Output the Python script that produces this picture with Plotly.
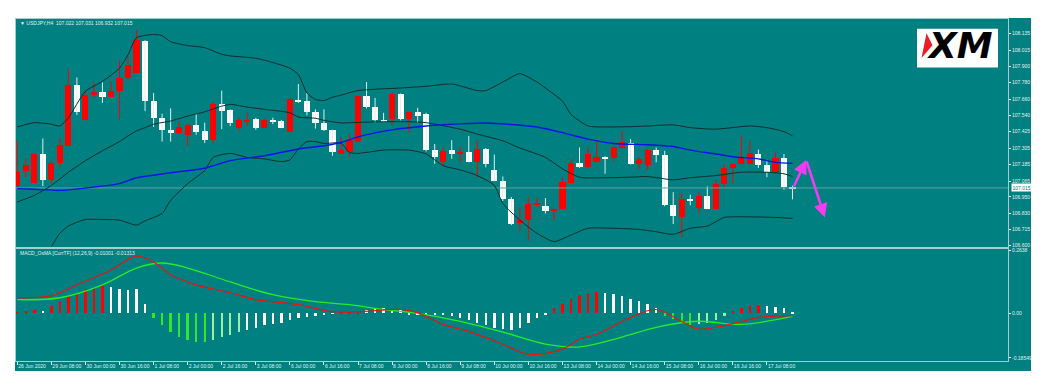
import plotly.graph_objects as go

# ---------------- data (USDJPY H4) ----------------
opens = [107.033,107.136,107.053,107.262,107.077,107.194,107.322,107.766,107.506,107.694,
         107.710,107.676,107.717,107.813,107.849,108.085,107.650,107.521,107.439,107.413,
         107.401,107.470,107.429,107.365,107.626,107.581,107.453,107.501,107.514,107.453,
         107.509,107.501,107.422,107.658,107.645,107.568,107.485,107.434,107.266,107.278,
         107.352,107.681,107.604,107.509,107.514,107.698,107.514,107.568,107.550,107.290,
         107.201,107.290,107.269,107.280,107.206,107.302,107.149,107.069,106.938,106.758,
         106.786,106.897,106.882,106.848,106.861,107.050,107.197,107.165,107.201,107.242,
         107.233,107.305,107.345,107.190,107.182,107.293,107.255,106.894,106.805,106.938,
         106.870,106.956,106.866,107.041,107.158,107.190,107.190,107.266,107.185,107.134,
         107.233,107.022]
highs = [107.357,107.226,107.265,107.374,107.213,107.377,107.878,107.818,107.722,107.782,
         107.782,107.789,107.938,107.969,108.162,108.088,107.705,107.554,107.593,107.501,
         107.482,107.554,107.489,107.638,107.722,107.585,107.525,107.561,107.525,107.518,
         107.525,107.509,107.665,107.770,107.705,107.586,107.586,107.437,107.386,107.406,
         107.684,107.784,107.669,107.561,107.703,107.701,107.570,107.597,107.561,107.334,
         107.314,107.362,107.314,107.393,107.357,107.305,107.257,107.098,106.949,106.877,
         106.949,106.945,106.942,106.868,107.089,107.226,107.309,107.314,107.357,107.245,
         107.321,107.429,107.370,107.237,107.298,107.309,107.285,106.985,106.974,106.966,
         106.985,107.026,107.074,107.183,107.192,107.393,107.357,107.293,107.219,107.273,
         107.262,107.031]
lows = [107.025,107.093,107.050,107.028,107.046,107.165,107.320,107.545,107.503,107.669,
        107.633,107.672,107.514,107.794,107.845,107.573,107.458,107.352,107.352,107.406,
        107.322,107.401,107.341,107.338,107.442,107.465,107.429,107.465,107.437,107.449,
        107.478,107.449,107.420,107.633,107.542,107.446,107.429,107.249,107.262,107.242,
        107.350,107.593,107.489,107.494,107.465,107.506,107.418,107.489,107.280,107.190,
        107.170,107.226,107.201,107.201,107.093,107.165,107.064,106.920,106.745,106.704,
        106.632,106.877,106.830,106.781,106.858,107.041,107.161,107.161,107.199,107.118,
        107.208,107.302,107.185,107.154,107.146,107.201,106.882,106.753,106.661,106.889,
        106.830,106.861,106.862,107.010,107.046,107.188,107.186,107.161,107.093,107.122,
        107.002,106.932]
closes = [107.129,107.185,107.262,107.077,107.194,107.329,107.766,107.566,107.694,107.710,
          107.676,107.722,107.818,107.910,108.090,107.650,107.525,107.437,107.417,107.458,
          107.470,107.424,107.365,107.626,107.573,107.485,107.506,107.509,107.453,107.509,
          107.496,107.453,107.662,107.645,107.568,107.485,107.434,107.278,107.290,107.362,
          107.681,107.604,107.509,107.501,107.701,107.514,107.568,107.542,107.290,107.244,
          107.285,107.266,107.280,107.206,107.298,107.190,107.069,106.938,106.753,106.786,
          106.902,106.902,106.846,106.866,107.057,107.197,107.165,107.266,107.242,107.233,
          107.314,107.348,107.190,107.226,107.290,107.255,106.894,106.812,106.933,106.918,
          106.956,106.866,107.041,107.158,107.190,107.244,107.269,107.185,107.134,107.233,
          107.021,107.015]

# Bollinger bands and moving average (bar index, price)
bb_up_idx = [0,2,4,5,6,8,10,12,13,14,16,17,18,20,22,24,25,28,30,32,33,34,35,36,37,38,40,45,48,51,
             54,55,57,59,61,62,64,65,67,69,72,74,77,79,82,86,88,90,91]
bb_up = [107.458,107.489,107.478,107.465,107.525,107.717,107.789,107.885,107.982,108.106,108.130,
         108.121,108.077,108.049,108.034,107.986,107.974,107.957,107.926,107.885,107.838,107.705,
         107.658,107.650,107.674,107.689,107.722,107.741,107.753,107.770,107.722,107.722,107.784,
         107.845,107.784,107.741,107.645,107.550,107.465,107.458,107.460,107.465,107.473,107.453,
         107.442,107.465,107.453,107.424,107.393]
bb_mid_idx = [0,2,4,6,8,10,12,13,14,15,16,18,20,22,24,25,27,29,32,33,35,36,38,39,43,46,48,52,54,
              57,59,62,64,66,69,72,74,77,79,82,85,88,90,91]
bb_mid = [106.913,106.961,107.033,107.129,107.213,107.285,107.352,107.393,107.429,107.453,107.478,
          107.501,107.537,107.568,107.609,107.622,107.602,107.586,107.561,107.530,107.521,107.506,
          107.487,107.489,107.496,107.496,107.489,107.442,107.406,107.357,107.305,107.237,107.154,
          107.093,107.089,107.093,107.098,107.074,107.089,107.105,107.129,107.129,107.118,107.098]
bb_low_idx = [0,2,4,5,6,8,10,12,14,15,17,18,20,21,22,23,25,27,29,31,32,33,34,35,36,38,39,40,43,46,
              48,50,52,54,56,57,59,61,63,65,67,70,73,75,77,79,81,82,83,86,89,91]
bb_low = [106.313,106.436,106.589,106.686,106.738,106.786,106.786,106.781,106.745,106.776,106.830,
          106.925,107.046,107.093,107.141,107.237,107.266,107.237,107.226,107.206,107.218,107.298,
          107.352,107.352,107.338,107.341,107.273,107.266,107.290,107.290,107.262,107.177,107.146,
          107.105,107.033,106.902,106.781,106.686,106.625,106.673,106.722,106.722,106.714,106.697,
          106.678,106.722,106.738,106.769,106.801,106.805,106.801,106.794]
ma_idx = [0,2,5,8,12,14,18,22,25,29,33,36,38,40,44,48,52,55,58,61,64,67,70,74,77,79,82,84,87,89,91]
ma = [107.010,107.005,106.997,107.014,107.046,107.089,107.125,107.158,107.213,107.249,107.298,
      107.321,107.345,107.386,107.437,107.465,107.480,107.487,107.476,107.458,107.417,107.370,
      107.338,107.329,107.316,107.290,107.262,107.242,107.226,107.201,107.194]

# MACD / OsMA panel (rough reading)
osma = [0.004,0.008,0.012,0.010,0.030,0.050,0.070,0.085,0.100,0.110,0.120,0.110,0.100,0.095,0.100,
        0.040,-0.020,-0.050,-0.080,-0.100,-0.110,-0.120,-0.120,-0.110,-0.100,-0.090,-0.080,-0.070,
        -0.060,-0.050,-0.045,-0.040,-0.030,-0.020,-0.015,-0.010,-0.005,-0.002,0.004,0.006,0.008,
        0.015,0.020,0.022,0.018,0.015,-0.004,-0.006,-0.005,-0.008,-0.006,-0.010,-0.020,-0.030,
        -0.040,-0.050,-0.060,-0.065,-0.070,-0.060,-0.040,-0.020,-0.005,0.020,0.040,0.060,0.075,
        0.085,0.090,0.085,0.080,0.070,0.060,0.050,0.040,0.020,-0.010,-0.025,-0.040,-0.050,-0.045,
        -0.040,-0.030,-0.010,0.010,0.020,0.030,0.035,0.030,0.028,0.020,0.004]
osma_col = ['r','r','r','w','r','r','r','r','r','r','r','w','w','w','w','w','g','g','g','g','g','g',
            'g','l','l','l','l','w','w','w','w','w','w','w','w','w','w','w','r','r','r','w','w','w',
            'w','w','w','w','w','w','w','w','w','w','w','w','w','w','w','w','w','w','w','r','r','r',
            'r','r','r','w','w','w','w','w','w','w','g','g','g','g','l','l','l','l','r','r','r','r',
            'w','w','w','w']
macd_idx = [0,4,7,11,14,16,18,21,25,28,33,37,40,45,47,50,53,57,60,64,66,68,72,75,78,80,82,85,87,91]
macd_line = [0.065,0.074,0.119,0.181,0.239,0.214,0.161,0.119,0.086,0.057,0.036,0.007,0.007,0.016,
             0.003,-0.046,-0.075,-0.129,-0.170,-0.149,-0.108,-0.087,-0.017,0.016,-0.034,-0.066,
             -0.058,-0.034,-0.017,-0.010]
sig_idx = [0,5,10,14,17,20,25,30,35,39,43,47,52,57,62,66,71,75,80,85,91]
sig_line = [0.057,0.065,0.119,0.189,0.210,0.189,0.131,0.078,0.049,0.036,0.016,0.000,-0.033,
            -0.078,-0.128,-0.140,-0.099,-0.058,-0.033,-0.046,-0.013]

tick_idx = [0,4,8,12,16,20,24,28,32,36,40,44,48,52,56,60,64,68,72,76,80,84,88]
tick_lbl = ["26 Jun 2020","29 Jun 08:00","30 Jun 00:00","30 Jun 16:00","1 Jul 08:00","2 Jul 00:00",
            "2 Jul 16:00","3 Jul 08:00","6 Jul 00:00","6 Jul 16:00","7 Jul 08:00","8 Jul 00:00",
            "8 Jul 16:00","9 Jul 08:00","10 Jul 00:00","10 Jul 16:00","13 Jul 08:00","14 Jul 00:00",
            "14 Jul 16:00","15 Jul 08:00","16 Jul 00:00","16 Jul 16:00","17 Jul 08:00"]
price_ticks = [108.135,108.015,107.900,107.780,107.660,107.540,107.425,107.305,107.185,107.065,
               106.950,106.830,106.715,106.600]
macd_ticks = [0.2638, 0.0, -0.18549]
macd_tick_lbl = ["0.2638", "0.00", "-0.18549"]
last_price = 107.015
arrow_idx = [91.1, 92.6, 94.8]
arrow_px = [107.017, 107.218, 106.801]

# ---------------- figure ----------------
W, H = 1044, 388
def px(x): return x / W
def py(y): return 1 - y / H

TEAL = '#008080'
FRAME = '#a6cccc'
TXT = '#e4f0f0'
FONT = 'Liberation Sans'

n = len(opens)
idx = list(range(n))
bull = [c > o for o, c in zip(opens, closes)]

fig = go.Figure()

# bodies
fig.add_trace(go.Bar(x=idx, y=[max(abs(c - o), 0.0012) for o, c in zip(opens, closes)],
                     base=[min(o, c) for o, c in zip(opens, closes)], width=0.72,
                     marker=dict(color=['#ff0000' if b else '#ffffff' for b in bull], line=dict(width=0)),
                     xaxis='x', yaxis='y', hoverinfo='skip', showlegend=False))
# wicks
for want, col in ((True, '#ff0000'), (False, '#dfeeee')):
    wx, wy = [], []
    for i in idx:
        if bull[i] == want:
            wx += [i, i, None]
            wy += [lows[i], highs[i], None]
    fig.add_trace(go.Scatter(x=wx, y=wy, mode='lines', line=dict(color=col, width=1),
                             xaxis='x', yaxis='y', hoverinfo='skip', showlegend=False))

# current price line
fig.add_trace(go.Scatter(x=[-1, 200], y=[last_price, last_price], mode='lines',
                         line=dict(color='#5fa3a3', width=1), xaxis='x', yaxis='y',
                         hoverinfo='skip', showlegend=False))
# bands + MA
for xs, ys, col, w in ((bb_up_idx, bb_up, '#0f2e2e', 1), (bb_mid_idx, bb_mid, '#0f2e2e', 1),
                       (bb_low_idx, bb_low, '#0f2e2e', 1), (ma_idx, ma, '#0a14e6', 1.4)):
    fig.add_trace(go.Scatter(x=xs, y=ys, mode='lines', line=dict(color=col, width=w, shape='spline', smoothing=0.6),
                             xaxis='x', yaxis='y', hoverinfo='skip', showlegend=False))

# MACD histogram
cmap = {'r': '#ff0000', 'w': '#ffffff', 'g': '#2ee82e', 'l': '#9cf29c'}
fig.add_trace(go.Bar(x=idx, y=osma, width=0.28, marker=dict(color=[cmap[c] for c in osma_col], line=dict(width=0)),
                     xaxis='x2', yaxis='y2', hoverinfo='skip', showlegend=False))
fig.add_trace(go.Scatter(x=sig_idx, y=sig_line, mode='lines', line=dict(color='#22ee22', width=1.3, shape='spline'),
                         xaxis='x2', yaxis='y2', hoverinfo='skip', showlegend=False))
fig.add_trace(go.Scatter(x=macd_idx, y=macd_line, mode='lines', line=dict(color='#ee1111', width=1.2, shape='spline'),
                         xaxis='x2', yaxis='y2', hoverinfo='skip', showlegend=False))

xr = [-0.15, 116.3]
dom_x = [px(16), px(1008)]
axis_common = dict(showgrid=False, zeroline=False, showline=True, linecolor=FRAME, linewidth=1, mirror=True)

fig.update_layout(
    width=W, height=H, margin=dict(l=0, r=0, t=0, b=0),
    paper_bgcolor='#ffffff', plot_bgcolor=TEAL, bargap=0, barmode='overlay',
    font=dict(family=FONT, size=5, color=TXT),
    xaxis=dict(domain=dom_x, range=xr, anchor='y', showticklabels=False, ticks='', **axis_common),
    yaxis=dict(domain=[py(246.5), py(17)], range=[106.589, 108.243], side='right', anchor='x',
               tickvals=price_ticks, ticktext=[f"{v:.3f}" for v in price_ticks], ticks='outside',
               ticklen=2, tickcolor=TXT, tickfont=dict(size=5, color=TXT, family=FONT), **axis_common),
    xaxis2=dict(domain=dom_x, range=xr, anchor='y2', tickvals=tick_idx, ticktext=tick_lbl,
                ticks='outside', ticklen=3, tickcolor=TXT, ticklabelposition='outside right', tickangle=0,
                tickfont=dict(size=5, color=TXT, family=FONT), **axis_common),
    yaxis2=dict(domain=[py(362), py(249)], range=[-0.1995, 0.268], side='right', anchor='x2',
                tickvals=macd_ticks, ticktext=macd_tick_lbl, ticks='outside', ticklen=2, tickcolor=TXT,
                tickfont=dict(size=5, color=TXT, family=FONT), **axis_common),
)

shapes = [
    dict(type='rect', xref='paper', yref='paper', x0=px(15), x1=px(1031), y0=py(372), y1=py(16),
         fillcolor=TEAL, line=dict(width=0), layer='below'),
    dict(type='rect', xref='paper', yref='paper', x0=px(917), x1=px(998), y0=py(66), y1=py(27),
         fillcolor='#ffffff', line=dict(width=0), layer='above'),
    dict(type='path', xref='paper', yref='paper',
         path=f"M {px(926.5)} {py(31.5)} L {px(932.5)} {py(43.5)} L {px(921.5)} {py(56.5)} Z",
         fillcolor='#ee1c25', line=dict(width=0), layer='above'),
]
fig.update_layout(shapes=shapes)

ann = [
    dict(xref='paper', yref='paper', x=px(18), y=py(20.7), xanchor='left', yanchor='middle', showarrow=False,
         text='▼ USDJPY,H4  107.022 107.031 106.932 107.015', font=dict(size=5, color=TXT, family=FONT)),
    dict(xref='paper', yref='paper', x=px(18), y=py(252.7), xanchor='left', yanchor='middle', showarrow=False,
         text='MACD_OsMA [CurrTF] (12,26,9) -0.01001 -0.01313', font=dict(size=5, color=TXT, family=FONT)),
    dict(xref='paper', yref='y', x=px(1010.5), y=last_price, xanchor='left', yanchor='middle', showarrow=False,
         text='107.015', bgcolor='#ffffff', borderpad=0.5, font=dict(size=5, color=TEAL, family=FONT)),
    dict(xref='paper', yref='paper', x=px(960), y=py(44), xanchor='center', yanchor='middle', showarrow=False,
         text='<b><i>XM</i></b>', font=dict(size=36, color='#000000', family='DejaVu Sans')),
    dict(xref='x', yref='y', x=arrow_idx[1], y=arrow_px[1], ax=arrow_idx[0], ay=arrow_px[0], axref='x', ayref='y',
         showarrow=True, arrowhead=2, arrowsize=1.1, arrowwidth=2.5, arrowcolor='#f23cf2', text=''),
    dict(xref='x', yref='y', x=arrow_idx[2], y=arrow_px[2], ax=arrow_idx[1], ay=arrow_px[1], axref='x', ayref='y',
         showarrow=True, arrowhead=2, arrowsize=1.1, arrowwidth=2.5, arrowcolor='#f23cf2', text=''),
]
fig.update_layout(annotations=ann)

fig.write_html("out.html", config={'displayModeBar': False},
               post_script="document.body.style.margin='0';document.body.style.overflow='hidden';")
